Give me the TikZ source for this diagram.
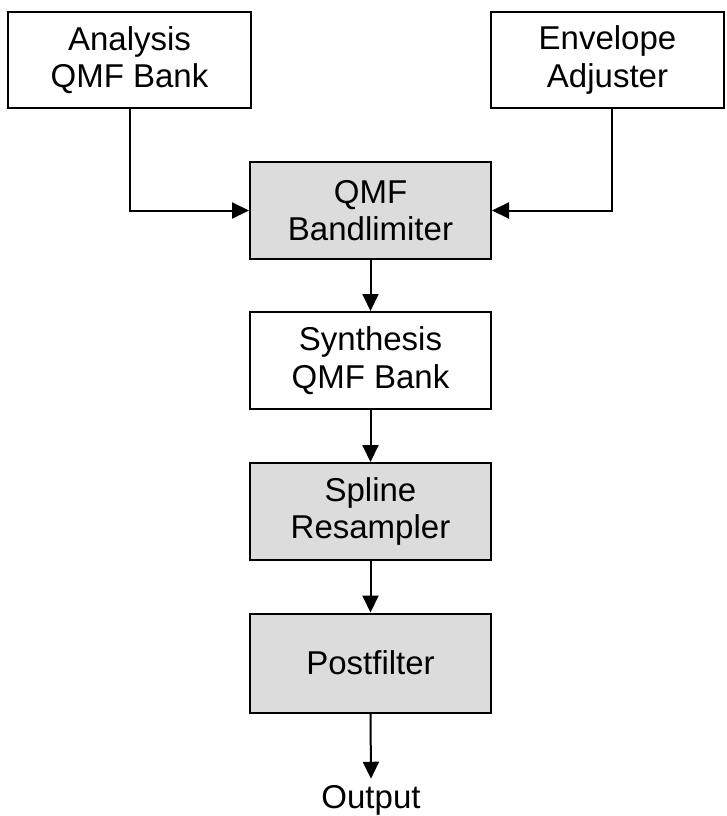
\documentclass[tikz,border=0pt]{standalone}
\usepackage{fontspec}
\setmainfont{Liberation Sans}
\usetikzlibrary{arrows.meta}
\definecolor{boxgray}{RGB}{220,220,220}
\tikzset{
  blk/.style={draw=black, line width=2pt, align=center, inner sep=0pt,
    font=\fontsize{33}{37.5}\selectfont},
  shaded/.style={blk, fill=boxgray},
  conn/.style={line width=2pt, -{Triangle[length=17pt,width=16pt]}}
}
\begin{document}
\begin{tikzpicture}[x=1pt,y=-1pt]
\useasboundingbox (0,0) rectangle (726,816);
\node[blk, minimum width=243pt, minimum height=96pt] (ana) at (129.5,60) {Analysis\\QMF Bank};
\node[blk, minimum width=233pt, minimum height=96pt] (env) at (607.5,60) {Envelope\\Adjuster};
\node[shaded, minimum width=241pt, minimum height=97pt] (band) at (370.5,210.5) {QMF\\Bandlimiter};
\node[blk, minimum width=241pt, minimum height=97pt] (syn) at (370.5,360.5) {Synthesis\\QMF Bank};
\node[shaded, minimum width=241pt, minimum height=97pt] (spl) at (370.5,511.5) {Spline\\Resampler};
\node[shaded, minimum width=241pt, minimum height=99pt] (post) at (370.5,663) {Postfilter};
\node[font=\fontsize{33}{37.5}\selectfont, anchor=base, inner sep=0pt] (out) at (371,808) {Output};
\draw[conn] (ana.south) |- (band.west);
\draw[conn] ([xshift=4.5pt]env.south) |- (band.east);
\draw[conn] (band.south) -- (syn.north);
\draw[conn] (syn.south) -- (spl.north);
\draw[conn] (spl.south) -- (post.north);
\draw[conn] (post.south) -- ([yshift=6pt]out.north);
\end{tikzpicture}
\end{document}
